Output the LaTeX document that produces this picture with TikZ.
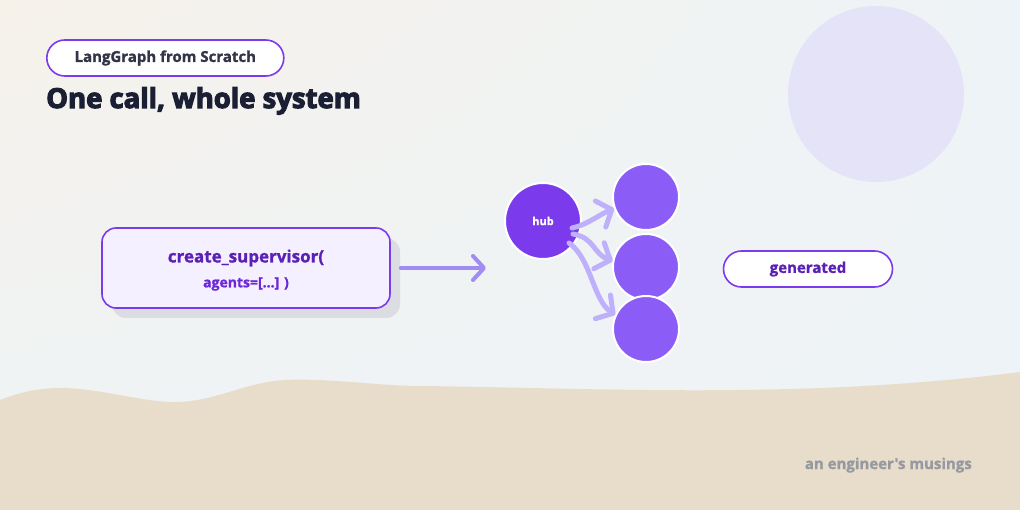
\documentclass[tikz,border=0pt]{standalone}
\usepackage{fontspec}
\setmainfont{Open Sans}
\newfontfamily\heavyfont[BoldFeatures={FakeBold=4}]{Open Sans}
\newfontfamily\semifont[BoldFeatures={FakeBold=1.2}]{Open Sans}
\usetikzlibrary{arrows.meta,calc,shadings}
\definecolor{bgwarm}{RGB}{246,242,234}
\definecolor{bgcool}{RGB}{238,243,247}
\definecolor{sand}{RGB}{232,220,203}
\definecolor{pale}{RGB}{229,227,248}
\definecolor{violet}{RGB}{124,58,237}
\definecolor{violetlt}{RGB}{139,92,246}
\definecolor{deep}{RGB}{91,33,182}
\definecolor{mid}{RGB}{109,40,217}
\definecolor{boxfill}{RGB}{245,240,255}
\definecolor{arrowc}{RGB}{160,140,242}
\definecolor{arrowlt}{RGB}{190,176,250}
\definecolor{ink}{RGB}{26,31,51}
\definecolor{shadowc}{RGB}{220,221,227}
\definecolor{muted}{RGB}{150,154,160}
\tikzset{
  pill/.style={draw=violet, line width=1.6pt, fill=white, rounded corners=18pt, minimum height=36pt, inner sep=0pt},
  agent/.style={circle, fill=violetlt, draw=white, line width=2pt, minimum size=66pt, inner sep=0pt},
  flow/.style={arrowlt, line width=5pt, line cap=round, -{Straight Barb[length=12pt,width=28pt,round]}},
}
\begin{document}
\begin{tikzpicture}[x=1pt,y=-1pt]
\useasboundingbox (0,0) rectangle (1020,510);
% background
\shade[upper left=bgwarm, upper right=bgcool, lower left=bgcool, lower right=bgcool] (0,0) rectangle (1020,510);
\fill[pale] (876,94) circle (88);
\fill[sand] (0,400) .. controls (20,392) and (40,388) .. (60,388)
  .. controls (100,388) and (140,402) .. (175,402)
  .. controls (215,402) and (245,382) .. (285,380)
  .. controls (330,378) and (380,386) .. (420,386)
  .. controls (600,388) and (800,400) .. (1020,372)
  -- (1020,510) -- (0,510) -- cycle;
% header
\node[pill, minimum width=237pt, anchor=west, font=\semifont\fontsize{15}{18}\selectfont\bfseries, text=ink!90] (tag) at (46,58) {LangGraph from Scratch};
\node[anchor=base west, inner sep=0pt, font=\heavyfont\fontsize{27.5}{32}\selectfont\bfseries, text=ink] (title) at (46,108) {One call, whole system};
% call box
\fill[shadowc, rounded corners=14pt] (112,238) rectangle (400,318);
\node[draw=violet, line width=1.6pt, fill=boxfill, rounded corners=14pt, minimum width=288pt, minimum height=80pt, inner sep=0pt] (call) at (246,268) {};
\node[font=\semifont\fontsize{17}{20}\selectfont\bfseries, text=deep] (fn) at (246,258) {create\_supervisor(};
\node[font=\semifont\fontsize{14}{17}\selectfont\bfseries, text=mid] (args) at (246,284) {agents=[...] )};
\coordinate (arrend) at (486,268);
\draw[arrowc, line width=4pt, line cap=round, -{Straight Barb[length=11pt,width=24pt,round]}] (call.east)++(10,0) -- (arrend);
% graph
\node[circle, fill=violet, draw=white, line width=2pt, minimum size=76pt, inner sep=0pt, text=white, font=\semifont\fontsize{11}{13}\selectfont\bfseries] (hub) at (543,221) {hub};
\node[agent] (a1) at (646,197) {};
\node[agent] (a2) at (646,267) {};
\node[agent] (a3) at (646,329) {};
\draw[flow] ([shift={(29,7)}]hub.center) .. controls +(15,-3) and +(-15,6) .. (a1.200);
\draw[flow] ([shift={(30,13)}]hub.center) .. controls +(22,4) and +(-20,-8) .. (a2.170);
\draw[flow] ([shift={(26,22)}]hub.center) .. controls +(22,15) and +(-22,-14) .. (a3.155);
% result
\node[pill, minimum width=169pt, font=\semifont\fontsize{15}{18}\selectfont\bfseries, text=deep] (gen) at (808,269) {generated};
\node[anchor=base east, inner sep=0pt, font=\semifont\fontsize{15}{18}\selectfont\bfseries, text=muted] (sig) at (972,469) {an engineer's musings};
\end{tikzpicture}
\end{document}
